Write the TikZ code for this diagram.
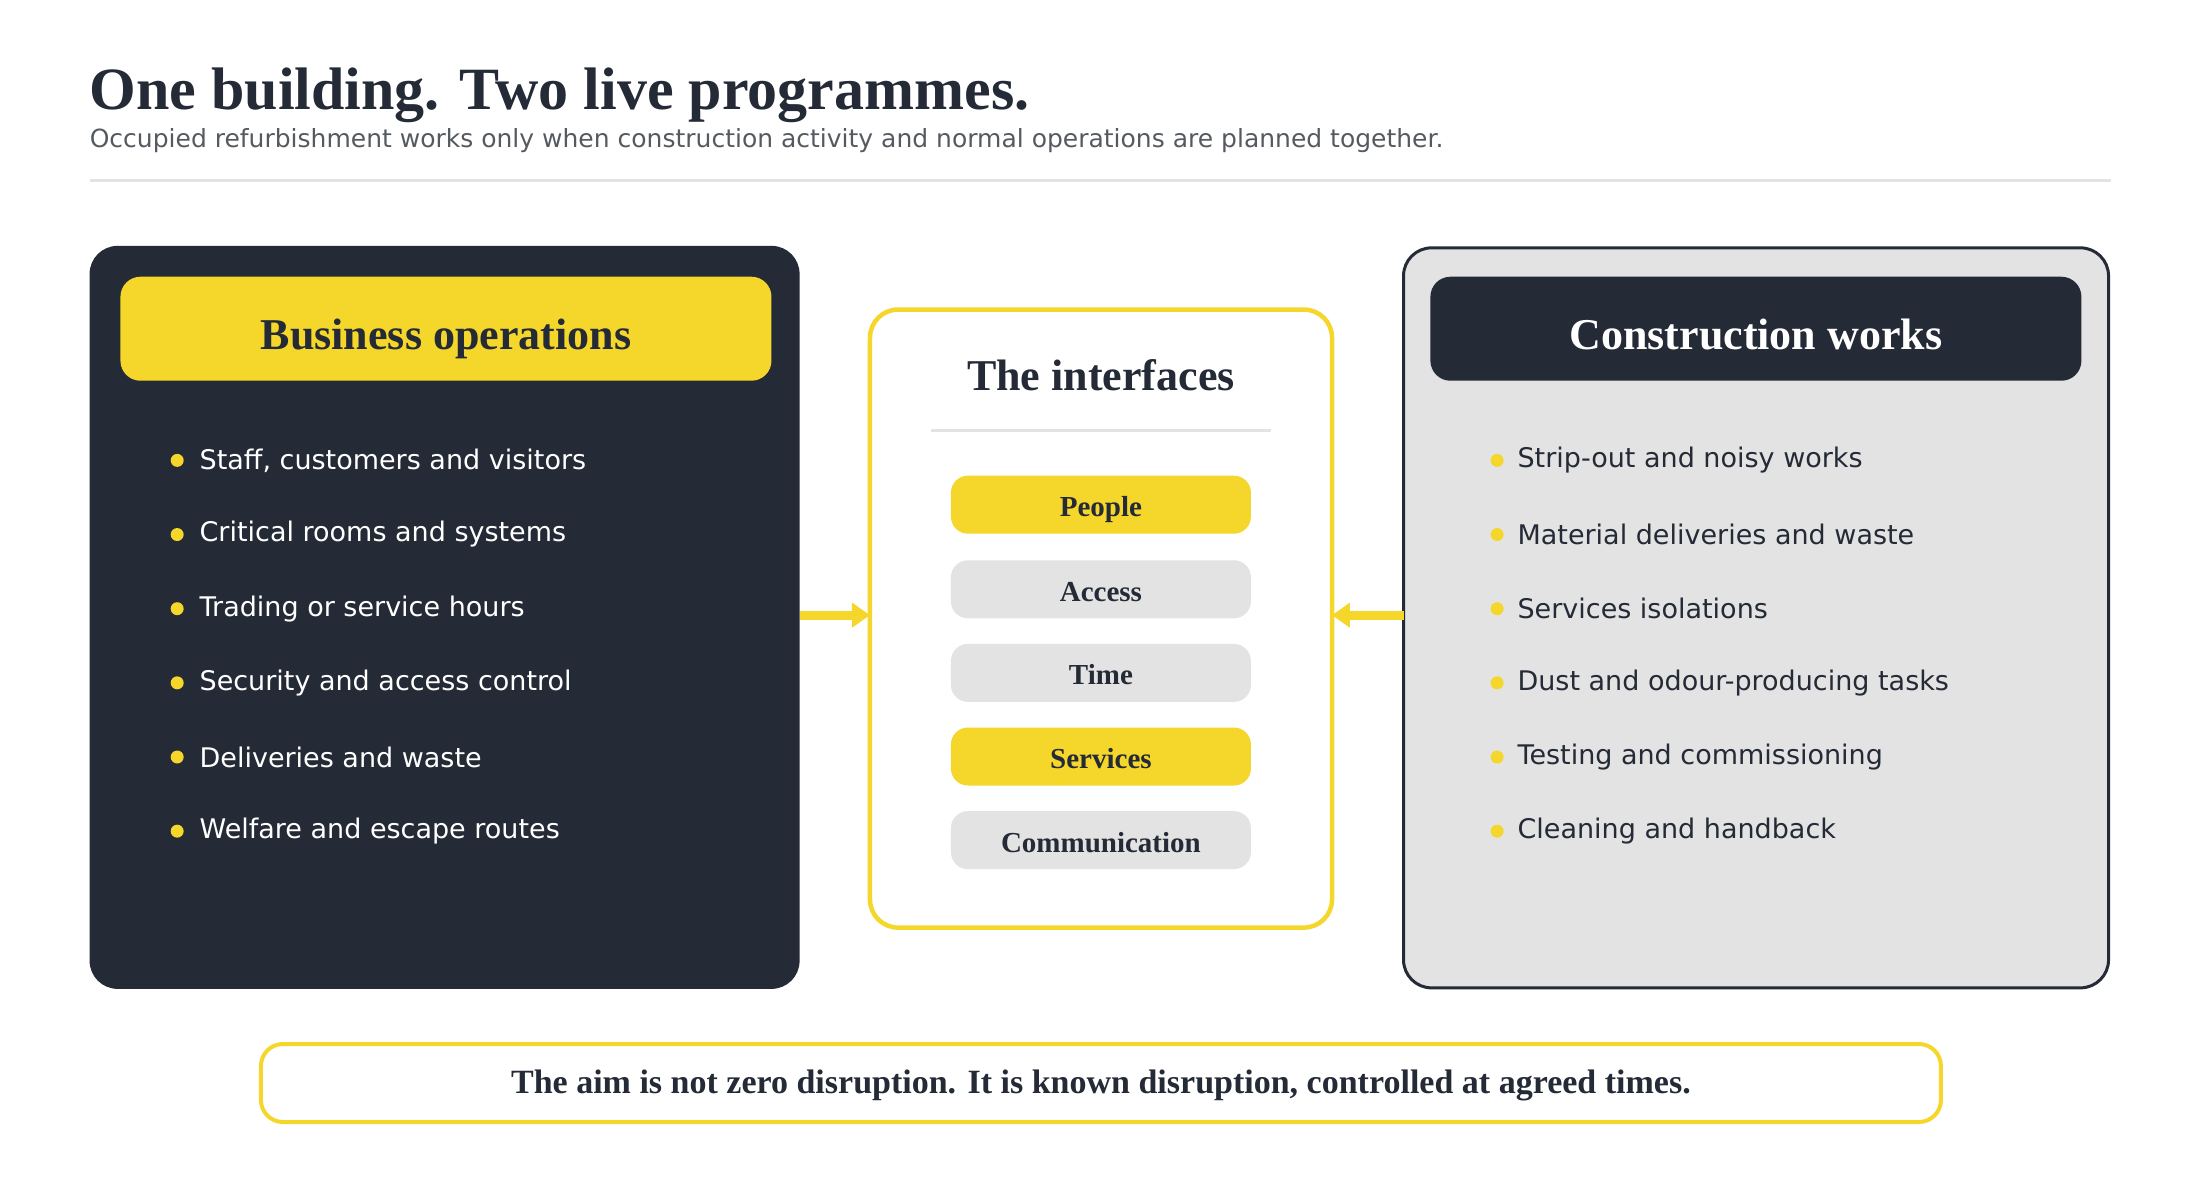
\documentclass[tikz,border=0pt]{standalone}
\usepackage{fontspec}
\setmainfont{Liberation Serif}
\setsansfont{DejaVu Sans}
\usetikzlibrary{positioning}
\usetikzlibrary{arrows.meta}
\definecolor{ink}{HTML}{242A36}
\definecolor{sun}{HTML}{F5D62A}
\definecolor{mist}{HTML}{E3E3E3}
\definecolor{slate}{HTML}{555A60}
\tikzset{
  panel/.style={rounded corners=28pt, minimum width=#1, anchor=north west, outer sep=0pt},
  header/.style={rounded corners=20pt, minimum width=651pt, minimum height=104pt,
    anchor=north west, outer sep=0pt, text height=42pt, text depth=0pt,
    font=\fontsize{44}{48}\selectfont\bfseries},
  pill/.style={rounded corners=17pt, minimum width=300pt, minimum height=58pt,
    fill=#1, text=ink, text height=24pt, text depth=0pt, font=\fontsize{29}{32}\selectfont\bfseries},
  item/.style={anchor=west, font=\sffamily\fontsize{27}{30}\selectfont},
  dot/.style={circle, fill=sun, inner sep=0pt, minimum size=13pt},
  link/.style={line width=9pt, draw=sun, -{Triangle[length=18pt,width=24pt]}}
}
\begin{document}
\begin{tikzpicture}[x=1pt,y=-1pt]
  \useasboundingbox (0,0) rectangle (2200,1180);
\begin{scope}[scale=0.9954]
  % title block
  \node[anchor=base west, inner sep=0pt, text=ink, font=\fontsize{60}{64}\selectfont\bfseries]
    (title) at (90,110) {One building. Two live programmes.};
  \node[anchor=base west, inner sep=0pt, text=slate, font=\sffamily\fontsize{25}{28}\selectfont]
    (subtitle) at (90,148) {Occupied refurbishment works only when construction activity and normal operations are planned together.};
  \draw[mist, line width=3pt] (90,181) -- (2121,181);

  % left panel
  \node[panel=710pt, minimum height=743pt, fill=ink] (ops) at (90,247) {};
  \node[header, fill=sun, text=ink] (opshead) at (121,278) {Business operations};
  \foreach \t [count=\i] in {{Staff, customers and visitors}, Critical rooms and systems,
      Trading or service hours, Security and access control, Deliveries and waste,
      Welfare and escape routes} {
    \node[dot] (od\i) at (178,388+74.5*\i) {};
    \node[item, text=white] (ot\i) at (197,388+74.5*\i) {\t};
  }

  % right panel
  \node[panel=705pt, minimum height=740pt, fill=mist, draw=ink, line width=3pt] (works) at (1410,249) {};
  \node[header, fill=ink, text=white] (workshead) at (1437,278) {Construction works};
  \foreach \t [count=\i] in {Strip-out and noisy works, Material deliveries and waste,
      Services isolations, Dust and odour-producing tasks, Testing and commissioning,
      Cleaning and handback} {
    \node[dot] (wd\i) at (1504,388+74.5*\i) {};
    \node[item, text=ink] (wt\i) at (1521,388+74.5*\i) {\t};
  }

  % middle panel
  \node[panel=462pt, minimum height=618pt, fill=white, draw=sun, line width=4.5pt] (mid) at (874,311) {};
  \node[text=ink, font=\fontsize{44}{48}\selectfont\bfseries] (midhead) at (1106,377) {The interfaces};
  \draw[mist, line width=3pt] (935,432) -- (1277,432);
  \node[pill=sun] (people) at (1106,507) {People};
  \node[pill=mist] (access) at (1106,592) {Access};
  \node[pill=mist] (time) at (1106,676) {Time};
  \node[pill=sun] (services) at (1106,760) {Services};
  \node[pill=mist] (comms) at (1106,844) {Communication};

  % arrows into the interfaces
  \draw[link] (ops.east |- 0,618) -- (mid.west |- 0,618);
  \draw[link] (works.west |- 0,618) -- (mid.east |- 0,618);

  % footer
  \node[rounded corners=22pt, draw=sun, line width=4pt, fill=white,
    minimum width=1680pt, minimum height=78pt, text=ink, text depth=3pt,
    font=\fontsize{34}{38}\selectfont\bfseries] (aim) at (1106,1088)
    {The aim is not zero disruption. It is known disruption, controlled at agreed times.};
\end{scope}
\end{tikzpicture}
\end{document}
